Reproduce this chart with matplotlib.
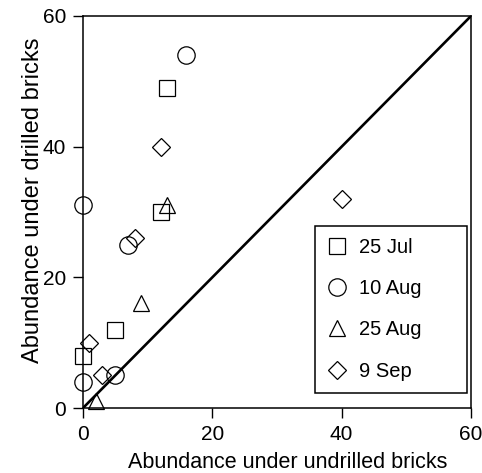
import matplotlib
matplotlib.use("Agg")
import matplotlib.pyplot as plt

plt.rcParams['font.family'] = ['Liberation Sans', 'DejaVu Sans']

# sampling dates and their (undrilled, drilled) abundances
dates = ['25 Jul', '10 Aug', '25 Aug', '9 Sep']
jul25_x = [13, 12, 5, 0]
jul25_y = [49, 30, 12, 8]
aug10_x = [16, 0, 7, 0, 5]
aug10_y = [54, 31, 25, 4, 5]
aug25_x = [13, 9, 2]
aug25_y = [31, 16, 1]
sep9_x = [12, 8, 1, 3, 40]
sep9_y = [40, 26, 10, 5, 32]

series = [
    (jul25_x, jul25_y, 's', 11.5),
    (aug10_x, aug10_y, 'o', 12.5),
    (aug25_x, aug25_y, '^', 12),
    (sep9_x, sep9_y, 'D', 9),
]

fig = plt.figure(figsize=(4.82, 4.73), dpi=100)
ax = fig.add_axes([0.1722, 0.1374, 0.805, 0.8288])

# 1:1 line
ax.plot([0, 60], [0, 60], color='black', lw=1.9, zorder=2)

for (xs, ys, mk, ms), lab in zip(series, dates):
    ax.plot(xs, ys, linestyle='none', marker=mk, markersize=ms,
            markerfacecolor='none', markeredgecolor='black',
            markeredgewidth=0.9, label=lab, clip_on=False, zorder=3)

ax.set_xlim(0, 60)
ax.set_ylim(0, 60)
ax.set_xticks([0, 20, 40, 60])
ax.set_yticks([0, 20, 40, 60])
ax.tick_params(direction='out', length=7, width=1, labelsize=15, pad=5)
for s in ax.spines.values():
    s.set_linewidth(1.1)

ax.set_xlabel('Abundance under undrilled bricks', fontsize=15.5)
ax.set_ylabel('Abundance under drilled bricks', fontsize=17)
ax.xaxis.set_label_coords(0.527, -0.112)
ax.yaxis.set_label_coords(-0.1, 0.531)

leg = ax.legend(loc='lower left', bbox_to_anchor=(0.598, 0.039, 0.392, 0.425),
                mode='expand', borderaxespad=0, fontsize=14.5, fancybox=False,
                edgecolor='black', framealpha=1, handlelength=1.0,
                handletextpad=0.6, labelspacing=1.1, borderpad=0.6)
leg.get_frame().set_linewidth(1.1)

fig.savefig('out.png', dpi=100)
